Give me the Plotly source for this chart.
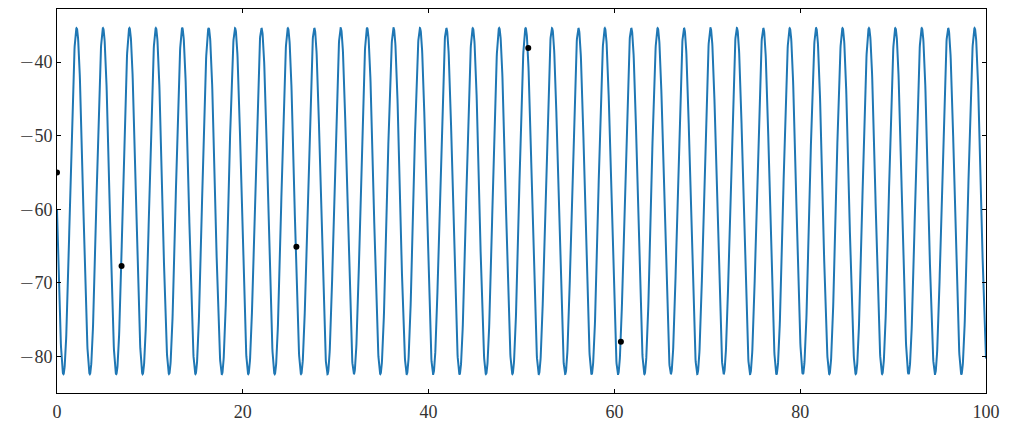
import numpy as np
import plotly.graph_objects as go

obs_x = [0.0, 6.95, 25.77, 50.73, 60.70]
obs_y = [-55.0, -67.7, -65.1, -38.1, -78.0]

# Fitted sinusoid parameters
fit_offset = -58.9
fit_amplitude = 23.5
fit_period = 2.843
fit_peak_x = 2.11

x_ticks = [0, 20, 40, 60, 80, 100]
y_ticks = [-80, -70, -60, -50, -40]
y_tick_labels = ["\u221280", "\u221270", "\u221260", "\u221250", "\u221240"]

xs = np.linspace(0, 100, 6001)
ys = fit_offset + fit_amplitude * np.cos(2 * np.pi * (xs - fit_peak_x) / fit_period)

fig = go.Figure()
fig.add_trace(go.Scatter(x=xs, y=ys, mode="lines",
                         line=dict(color="#1f77b4", width=2), showlegend=False,
                         hoverinfo="skip"))
fig.add_trace(go.Scatter(x=obs_x, y=obs_y, mode="markers",
                         marker=dict(color="black", size=6), showlegend=False))

font = dict(family="Liberation Serif", size=18, color="#333333")
axis_common = dict(showline=True, linecolor="black", linewidth=1, mirror="ticks",
                   ticks="inside", ticklen=4, tickwidth=1, tickcolor="black",
                   showgrid=False, zeroline=False, tickfont=font)

y_text = [
    '<span style="font-family:DejaVu Sans;font-weight:200">' + t[0] + "</span>" + t[1:]
    for t in y_tick_labels
]

fig.update_layout(
    width=1004, height=419,
    margin=dict(l=49, r=26, t=1, b=34, autoexpand=False),
    paper_bgcolor="white", plot_bgcolor="white",
    xaxis=dict(range=[0, 100], tickvals=x_ticks, ticklabelstandoff=2, **axis_common),
    yaxis=dict(range=[-84.97, -32.8], tickvals=y_ticks, ticktext=y_text, **axis_common),
)

fig.write_html("out.html")
